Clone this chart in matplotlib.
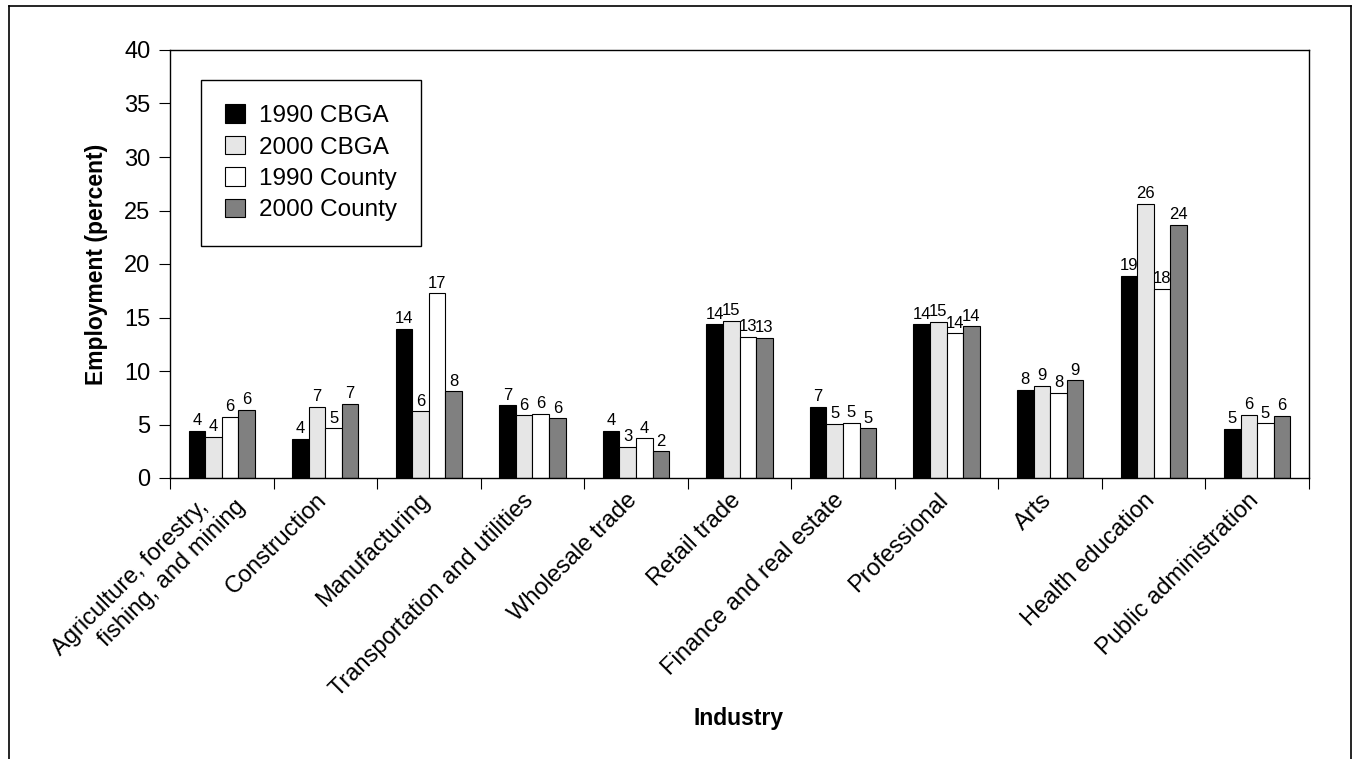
import matplotlib.pyplot as plt
import numpy as np
from matplotlib.lines import Line2D
from matplotlib.transforms import ScaledTranslation

plt.rcParams['font.family'] = ['Liberation Sans', 'DejaVu Sans']

industries = ['Agriculture, forestry,    \nfishing, and mining', 'Construction', 'Manufacturing',
              'Transportation and utilities', 'Wholesale trade', 'Retail trade',
              'Finance and real estate', 'Professional', 'Arts', 'Health education',
              'Public administration']
series_names = ['1990 CBGA', '2000 CBGA', '1990 County', '2000 County']
cbga_1990 = [4.39, 3.64, 13.93, 6.79, 4.39, 14.36, 6.67, 14.36, 8.22, 18.9, 4.6]
cbga_2000 = [3.86, 6.67, 6.23, 5.86, 2.93, 14.7, 5.05, 14.61, 8.63, 25.63, 5.93]
county_1990 = [5.73, 4.64, 17.26, 5.98, 3.71, 13.2, 5.17, 13.52, 7.97, 17.65, 5.1]
county_2000 = [6.38, 6.91, 8.1, 5.58, 2.48, 13.11, 4.64, 14.17, 9.13, 23.65, 5.82]
colors = ['#000000', '#e6e6e6', '#ffffff', '#808080']

fig = plt.figure(figsize=(13.56, 7.59), dpi=100)
ax = fig.add_axes([170/1356, 1-478/759, 1139/1356, 428/759])

x = np.arange(len(industries))
w = 0.16
all_series = [cbga_1990, cbga_2000, county_1990, county_2000]
for i, (vals, name, c) in enumerate(zip(all_series, series_names, colors)):
    bars = ax.bar(x + (i - 1.5) * w, vals, w, color=c, edgecolor='black', linewidth=0.8, label=name)
    ax.bar_label(bars, labels=['%.0f' % v for v in vals], padding=2, fontsize=12)

ax.set_xlim(-0.5, len(industries) - 0.5)
ax.set_ylim(0, 40)
ax.set_yticks(range(0, 41, 5))
ax.set_xticks(np.arange(len(industries) + 1) - 0.5)
ax.set_xticklabels([])
ax.tick_params(axis='x', length=8, direction='out')
ax.tick_params(axis='y', length=8, labelsize=17, pad=6)
for s in ax.spines.values():
    s.set_linewidth(1.0)

# category labels, rotated, ending just under each group centre
for xi, name in zip(x, industries):
    dx, dy = (-2, -19) if '\n' not in name else (11, -16)
    tr = ax.get_xaxis_transform() + ScaledTranslation(dx/100, dy/100, fig.dpi_scale_trans)
    ax.text(xi, 0, name, transform=tr, rotation=45, ha='right', va='center',
            rotation_mode='anchor', multialignment='right', fontsize=17)

ax.set_ylabel('Employment (percent)', fontsize=16.5, fontweight='bold', labelpad=12)
fig.text(739/1356, 1-718/759, 'Industry', fontsize=16.5, fontweight='bold', ha='center', va='center')

leg = ax.legend(loc='upper left', bbox_to_anchor=(0.027, 0.93), fontsize=17.5, fancybox=False,
                edgecolor='black', framealpha=1, handlelength=0.8, handleheight=0.8,
                borderpad=1.0, labelspacing=0.36, handletextpad=0.6, borderaxespad=0)
leg.get_frame().set_linewidth(1.0)

# outer frame
x0, x1, y0 = 9/1356, 1351/1356, 1-6/759
for xs, ys in [([x0, x0], [0, y0]), ([x0, x1], [y0, y0]), ([x1, x1], [y0, 0])]:
    fig.add_artist(Line2D(xs, ys, transform=fig.transFigure, color='black', linewidth=1.2))

fig.savefig('out.png', dpi=100)
